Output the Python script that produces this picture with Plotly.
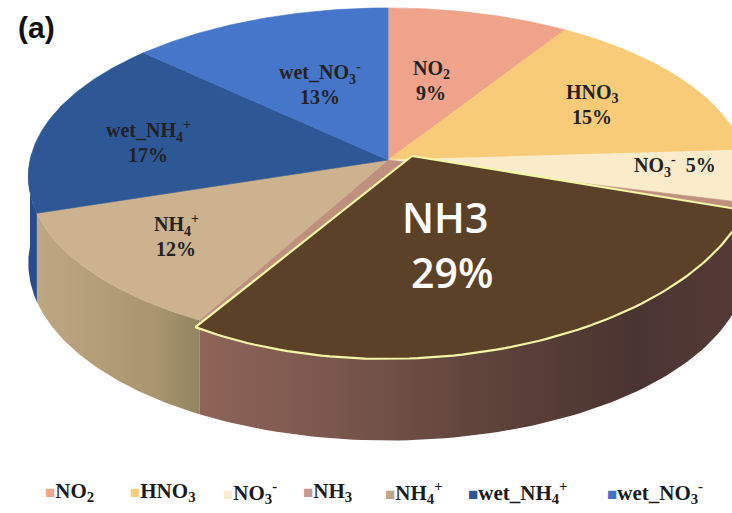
import numpy as np
import plotly.graph_objects as go

# ---- data -------------------------------------------------------------
categories = ["NO2", "HNO3", "NO3-", "NH3", "NH4+", "wet_NH4+", "wet_NO3-"]
shares = [9, 15, 5, 29, 12, 17, 13]          # percent of total deposition
label_html = [
    "NO<sub>2</sub>",
    "HNO<sub>3</sub>",
    "NO<sub>3</sub><sup>-</sup>",
    "NH<sub>3</sub>",
    "NH<sub>4</sub><sup>+</sup>",
    "wet_NH<sub>4</sub><sup>+</sup>",
    "wet_NO<sub>3</sub><sup>-</sup>",
]
highlight = "NH3"

# ---- styles -----------------------------------------------------------
top_colors = ["#EFA38A", "#F8CB78", "#FAEBCB", "#C0907F", "#CCB28E", "#2E5796", "#4676C9"]
legend_colors = ["#F0A58C", "#F9CD80", "#FBEED0", "#C29A90", "#BFA886", "#2F5597", "#4472C4"]
wall_scales = {
    "NO3-": [[0, "#E6D2B0"], [1, "#D8C39E"]],
    "NH3": [[0, "#8F6459"], [0.25, "#7A564C"], [0.55, "#5C4239"], [0.8, "#4A3431"], [1, "#553B38"]],
    "NH4+": [[0, "#BFA781"], [0.75, "#A8946F"], [1, "#928460"]],
    "wet_NH4+": [[0, "#2A4D8A"], [1, "#2A4D8A"]],
}
hl_fill = "#5C4129"
hl_edge = "#F3F6A6"

# perspective disc: centre, semi-axes, depth factor and wall height (px)
CX, CY, A, B, K, H = 388.0, 160.0, 358.0, 167.0, 0.098, 86.0
# the highlighted slice is redrawn on top, lifted and slightly enlarged
HL_APEX = (412.0, 156.0)
HL_M = np.array([[0.964, -0.217], [0.022, 1.095]])

# label centres (name line / value line)
label_pos = {
    "NO2": (431, 81), "HNO3": (592, 105), "NH4+": (176, 237),
    "wet_NH4+": (148, 143), "wet_NO3-": (320, 85),
}
single_line_pos = {"NO3-": (675, 166)}
LEGEND_X = [43, 128, 221, 301, 383, 466, 605]
LEGEND_Y = 492


def proj(theta_deg, r=1.0):
    t = np.radians(theta_deg)
    u = r * np.sin(t)
    v = r * np.cos(t)
    w = 1.0 + K * v
    return CX + A * u / w, CY - B * v / w, w


def arc(a0, a1, n=80):
    th = np.linspace(a0, a1, n)
    return proj(th)


fig = go.Figure()

total = float(sum(shares))
bounds = np.concatenate([[0.0], np.cumsum(shares) / total * 360.0])

# side walls (front half only: 90..270 degrees clockwise from 12 o'clock)
for i, name in enumerate(categories):
    a0, a1 = max(bounds[i], 90.0), min(bounds[i + 1], 270.0)
    if a1 <= a0:
        continue
    x, y, w = arc(a0, a1)
    xb, yb = x[::-1], (y + H / w)[::-1]
    xs = np.concatenate([x, xb, x[:1]])
    ys = np.concatenate([y, yb, y[:1]])
    scale = wall_scales.get(name, [[0, top_colors[i]], [1, top_colors[i]]])
    fig.add_trace(go.Scatter(
        x=xs, y=ys, mode="lines", fill="toself",
        line=dict(width=0), fillgradient=dict(type="horizontal", colorscale=scale),
        hoverinfo="skip", showlegend=False))

# top faces
for i, name in enumerate(categories):
    x, y, _ = arc(bounds[i], bounds[i + 1])
    xs = np.concatenate([[CX], x, [CX]])
    ys = np.concatenate([[CY], y, [CY]])
    fig.add_trace(go.Scatter(
        x=xs, y=ys, mode="lines", fill="toself", fillcolor=top_colors[i],
        line=dict(width=0.6, color=top_colors[i]),
        hoverinfo="skip", showlegend=False))

# highlighted slice drawn over the disc
hi = categories.index(highlight)
x, y, _ = arc(bounds[hi], bounds[hi + 1])
rel = np.vstack([np.concatenate([[0.0], x - CX, [0.0]]),
                 np.concatenate([[0.0], y - CY, [0.0]])])
tr = HL_M @ rel
fig.add_trace(go.Scatter(
    x=tr[0] + HL_APEX[0], y=tr[1] + HL_APEX[1], mode="lines", fill="toself",
    fillcolor=hl_fill, line=dict(width=2.2, color=hl_edge),
    hoverinfo="skip", showlegend=False))

annotations = []
serif = dict(family="Liberation Serif, Times New Roman, serif", size=20, color="#222222", weight="bold")

for i, name in enumerate(categories):
    if name in label_pos:
        xc, yc = label_pos[name]
        annotations.append(dict(x=xc, y=yc - 12, text=label_html[i], showarrow=False,
                                font=serif, xanchor="center", yanchor="middle"))
        annotations.append(dict(x=xc, y=yc + 12, text=f"{shares[i]}%", showarrow=False,
                                font=serif, xanchor="center", yanchor="middle"))
    elif name in single_line_pos:
        xc, yc = single_line_pos[name]
        annotations.append(dict(x=xc, y=yc, text=f"{label_html[i]}  {shares[i]}%", showarrow=False,
                                font=serif, xanchor="center", yanchor="middle"))

# highlighted slice label
big = dict(family="Open Sans, sans-serif", size=41, color="white", weight=600)
annotations.append(dict(x=445, y=217, text=highlight, showarrow=False, font=big,
                        xanchor="center", yanchor="middle"))
annotations.append(dict(x=452, y=272, text=f"{shares[hi]}%", showarrow=False, font=big,
                        xanchor="center", yanchor="middle"))

# panel tag
annotations.append(dict(x=36, y=27, text="(a)", showarrow=False,
                        font=dict(family="Liberation Sans, Arial, sans-serif", size=30,
                                  color="#111111", weight="bold"),
                        xanchor="center", yanchor="middle"))

# legend row
for i, name in enumerate(categories):
    annotations.append(dict(
        x=LEGEND_X[i], y=LEGEND_Y, showarrow=False, xanchor="left", yanchor="middle",
        text=f'<span style="color:{legend_colors[i]};font-size:17px">■</span>{label_html[i]}',
        font=dict(family="Liberation Serif, Times New Roman, serif", size=21,
                  color="#1a1a1a", weight="bold")))

fig.update_layout(
    width=732, height=513,
    margin=dict(l=0, r=0, t=0, b=0),
    paper_bgcolor="white", plot_bgcolor="white",
    showlegend=False,
    xaxis=dict(range=[0, 732], visible=False, fixedrange=True),
    yaxis=dict(range=[513, 0], visible=False, fixedrange=True),
    annotations=annotations,
)

fig.write_html("out.html")
